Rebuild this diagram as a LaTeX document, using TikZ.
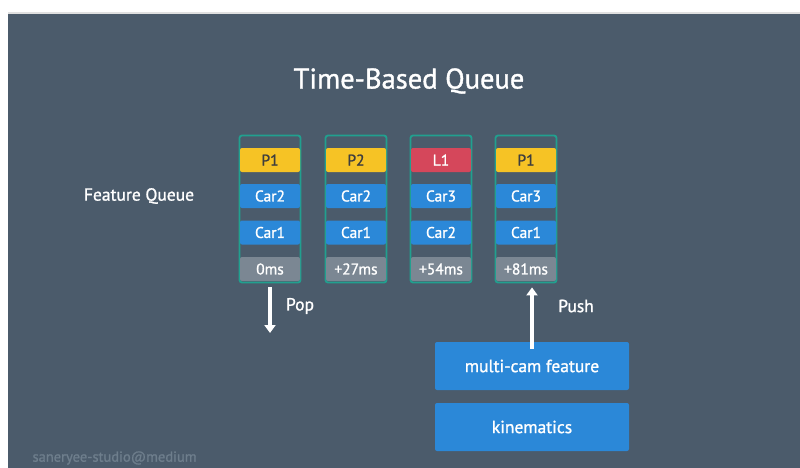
\documentclass[tikz,border=0pt]{standalone}
\usepackage{fontspec}
\setmainfont[FakeBold=1.2]{PT Sans}
\usetikzlibrary{arrows.meta}
\definecolor{panel}{HTML}{4B5B6B}
\definecolor{teal}{HTML}{21A08F}
\definecolor{yel}{HTML}{F6C325}
\definecolor{redc}{HTML}{D5475B}
\definecolor{bluec}{HTML}{2B88D8}
\definecolor{grayc}{HTML}{7B8793}
\definecolor{wm}{HTML}{6E7E8C}
\definecolor{dtext}{HTML}{3E3E3E}
\begin{document}
\begin{tikzpicture}[x=1pt,y=-1pt,
  col/.style={draw=teal,line width=1.8pt,rounded corners=2.5pt,minimum width=61pt,minimum height=147pt,inner sep=0pt},
  cell/.style={rounded corners=2pt,minimum width=60pt,minimum height=24pt,inner sep=0pt,font=\fontsize{15.5}{18}\selectfont,text=white},
  pcell/.style={cell,fill=yel,text=dtext},
  lcell/.style={cell,fill=redc},
  ccell/.style={cell,fill=bluec},
  tcell/.style={cell,fill=grayc},
  bigbox/.style={fill=bluec,rounded corners=2pt,minimum width=194pt,minimum height=48pt,inner sep=0pt,text=white,font=\fontsize{17.5}{20}\selectfont},
  lbl/.style={text=white,font=\fontsize{17.5}{20}\selectfont},
  arr/.style={draw=white,line width=3.4pt,-{Triangle[width=11pt,length=8pt]}}
]
\useasboundingbox (0,0) rectangle (800,468);
\fill[white] (0,0) rectangle (800,468);
\fill[black!12] (8,12.5) rectangle (800,14);
\fill[panel] (8,14) rectangle (800,468);

\node[text=white,font=\fontsize{28.5}{32}\selectfont] (title) at (409,81) {Time-Based Queue};
\node[lbl] (fq) at (139,196) {Feature Queue};

% columns
\foreach \i/\x in {1/270,2/356,3/441,4/526}{
  \node[col] (col\i) at (\x,209) {};
}
% column 1
\node[pcell] (c1a) at (270,160) {P1};
\node[ccell] (c1b) at (270,196) {Car2};
\node[ccell] (c1c) at (270,232.5) {Car1};
\node[tcell] (c1d) at (270,269) {0ms};
% column 2
\node[pcell] (c2a) at (356,160) {P2};
\node[ccell] (c2b) at (356,196) {Car2};
\node[ccell] (c2c) at (356,232.5) {Car1};
\node[tcell] (c2d) at (356,269) {+27ms};
% column 3
\node[lcell] (c3a) at (441,160) {L1};
\node[ccell] (c3b) at (441,196) {Car3};
\node[ccell] (c3c) at (441,232.5) {Car2};
\node[tcell] (c3d) at (441,269) {+54ms};
% column 4
\node[pcell] (c4a) at (526,160) {P1};
\node[ccell] (c4b) at (526,196) {Car3};
\node[ccell] (c4c) at (526,232.5) {Car1};
\node[tcell] (c4d) at (526,269) {+81ms};

% boxes
\node[bigbox] (mc) at (532,366) {multi-cam feature};
\node[bigbox] (kin) at (532,427) {kinematics};

% pop
\coordinate (popend) at (270,333);
\draw[arr] ([yshift=-4pt]col1.south) -- (popend);
\node[lbl] (pop) at (300,306) {Pop};

% push
\draw[arr] ([yshift=-7pt]mc.north) -- ([yshift=-4pt]mc.north |- col4.south);
\node[lbl] (push) at (576,306) {Push};

\node[text=wm,font=\fontsize{14.5}{16}\selectfont,anchor=west] (wmk) at (29,458) {saneryee-studio@medium};
\end{tikzpicture}
\end{document}
